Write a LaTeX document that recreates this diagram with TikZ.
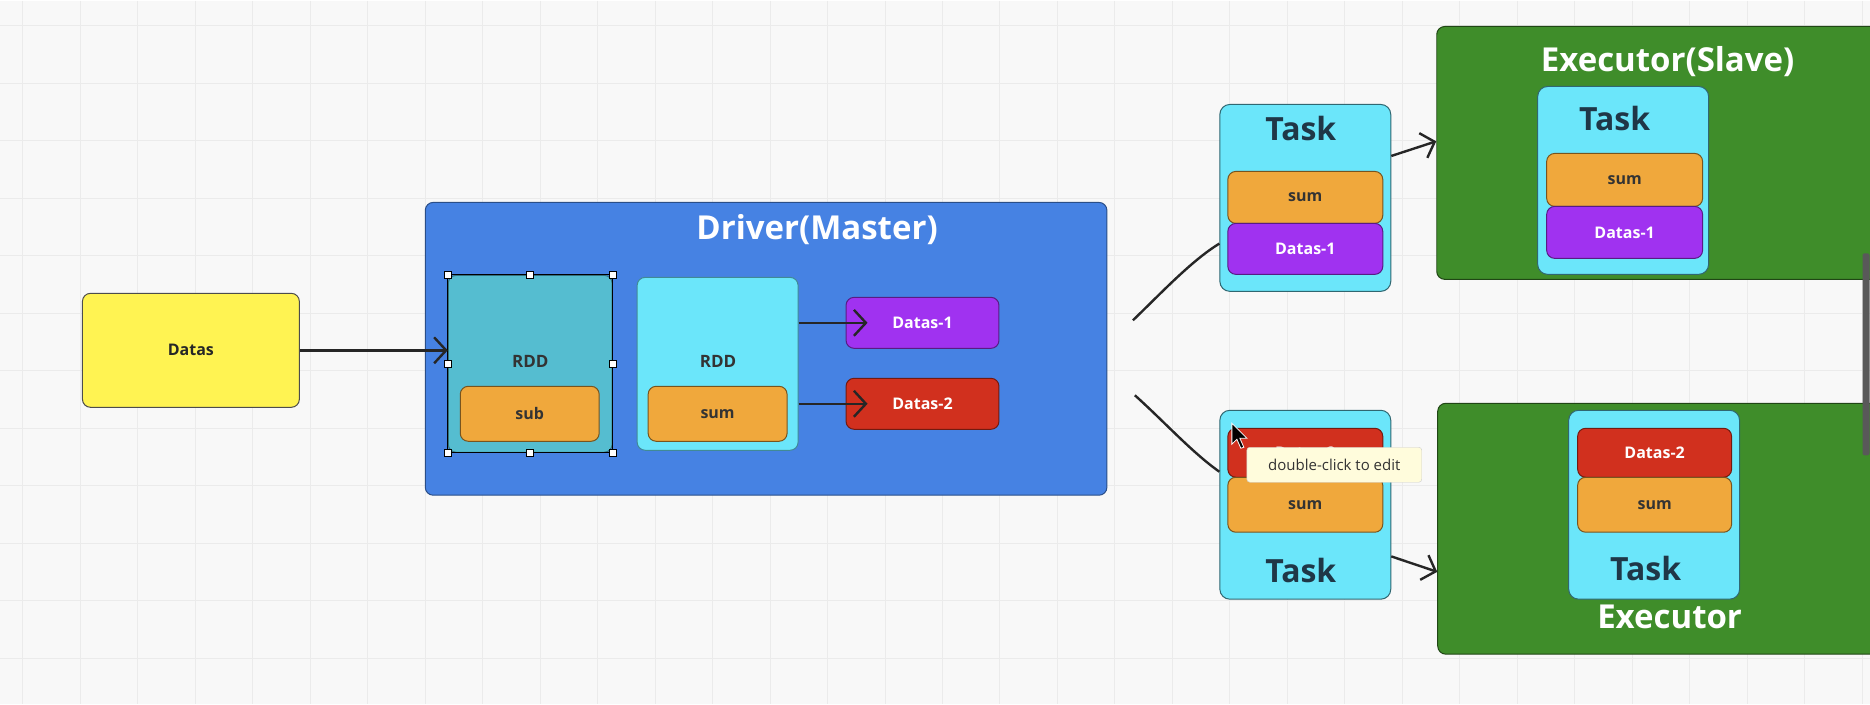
\documentclass[tikz,border=0pt]{standalone}
\usepackage{fontspec}
\setmainfont{Open Sans}
\usetikzlibrary{arrows.meta}

\definecolor{canvas}{HTML}{F8F8F8}
\definecolor{gridline}{HTML}{EBEBEB}
\definecolor{datayellow}{HTML}{FFF352}
\definecolor{driverblue}{HTML}{4682E3}
\definecolor{rddteal}{HTML}{55BDD0}
\definecolor{taskcyan}{HTML}{6BE6FA}
\definecolor{sumorange}{HTML}{F0A83C}
\definecolor{datapurple}{HTML}{A032F0}
\definecolor{datared}{HTML}{D1301E}
\definecolor{execgreen}{HTML}{3F8D2A}
\definecolor{taskink}{HTML}{1F3747}
\definecolor{tipyellow}{HTML}{FFFCDC}

\begin{document}
\begin{tikzpicture}[
  x=1pt, y=-1pt,
  every node/.style = {align=center, inner sep=0pt},
  wh/.style 2 args = {minimum width=#1pt, minimum height=#2pt},
  box/.style = {shape=rectangle, rounded corners=8pt, draw=black!70, line width=1pt},
  small/.style = {font=\fontsize{16}{19}\selectfont\bfseries},
  datasbox/.style = {box, fill=datayellow, small, text=black!85},
  driverbox/.style = {box, fill=driverblue, draw=driverblue!60!black},
  rddbox/.style = {box, fill=#1, draw=#1!60!black},
  sumbox/.style = {box, fill=sumorange, small, text=black!80, draw=sumorange!50!black},
  databox/.style = {box, fill=#1, small, text=white, draw=#1!55!black},
  taskbox/.style = {box, rounded corners=10pt, fill=taskcyan, draw=taskcyan!45!black},
  execbox/.style = {box, fill=execgreen, draw=execgreen!50!black},
  title/.style = {font=\fontsize{33}{38}\selectfont\bfseries, text=white},
  tasktext/.style = {font=\fontsize{32}{36}\selectfont\bfseries, text=taskink},
  rddtext/.style = {font=\fontsize{17}{20}\selectfont\bfseries, text=black!80},
  flow/.style = {draw=black!85, line width=2.4pt, -{Straight Barb[length=12pt,width=26pt]}},
  link/.style = {draw=black!85, line width=2.4pt},
  handle/.style = {shape=rectangle, draw=black, fill=white, line width=0.8pt, minimum size=7pt},
  tip/.style = {shape=rectangle, rounded corners=3pt, fill=tipyellow, draw=black!20,
                font=\fontsize{15}{18}\selectfont, text=black!80}
]

% canvas and grid
\fill[canvas] (0,0) rectangle (1870,704);
\foreach \gx in {0,...,32}
  \draw[gridline, line width=1pt] ({22.5+57.5*\gx},0) -- ++(0,704);
\foreach \gy in {0,...,11}
  \draw[gridline, line width=1pt] (0,{25.5+57.5*\gy}) -- ++(1870,0);
\useasboundingbox (0,0) rectangle (1870,704);

% input
\node[datasbox, wh={217}{114}] (datas) at (190.5,350) {Datas};

% driver
\node[driverbox, wh={682}{293}] (driver) at (766,348.5) {};
\node[title] (drvtitle) at (817,229) {Driver(Master)};

\node[rddbox=rddteal, wh={164}{177}] (rdd1) at (530,363.5) {};
\node[rddtext] (rdd1t) at (530,361) {RDD};
\node[sumbox, wh={139}{55}] (sub) at (529.5,413.5) {sub};

\node[rddbox=taskcyan, wh={161}{173}] (rdd2) at (717.5,363.5) {};
\node[rddtext] (rdd2t) at (718,361) {RDD};
\node[sumbox, wh={139}{55}] (sum) at (717.5,413.5) {sum};

\node[databox=datapurple, wh={153}{51}] (dataone) at (922.5,322.5) {Datas-1};
\node[databox=datared, wh={153}{51}] (datatwo) at (922.5,403.5) {Datas-2};

% selection frame
\draw[black, line width=1pt] (rdd1.north west) rectangle (rdd1.south east);
\foreach \a [count=\i] in {north west,north,north east,east,south east,south,south west,west}
  \node[handle] (h\i) at (rdd1.\a) {};

\draw[flow] (datas.east) -- (datas.east -| rdd1.west);
\draw[flow, shorten >=-22pt] (rdd2.east |- dataone) -- (dataone.west);
\draw[flow, shorten >=-22pt] (rdd2.east |- datatwo) -- (datatwo.west);

% tasks
\node[taskbox, wh={171}{187}] (task1) at (1305.5,197.5) {};
\node[tasktext] (task1t) at (1301,128) {Task};
\node[sumbox, wh={155}{52}] (task1sum) at (1305.5,197) {sum};
\node[databox=datapurple, wh={155}{51}] (task1data) at (1305.5,248.5) {Datas-1};

\node[taskbox, wh={171}{189}] (task2) at (1305.5,504.5) {};
\node[databox=datared, wh={155}{49}] (task2data) at (1305.5,452.5) {Datas-2};
\node[sumbox, wh={155}{55}] (task2sum) at (1305.5,504.5) {sum};
\node[tasktext] (task2t) at (1301,570) {Task};

\coordinate (split1) at (1133,320);
\coordinate (split2) at (1135,395);
\draw[link] (split1) .. controls (1162,292) and (1192,260) .. (task1.208);
\draw[link] (split2) .. controls (1165,422) and (1192,452) .. (task2.159);

% executors
\node[execbox, wh={443}{253}] (exec1) at (1658.5,152.5) {};
\node[title] (exec1t) at (1668,61) {Executor(Slave)};
\node[taskbox, wh={171}{188}] (etask1) at (1623.5,180) {};
\node[tasktext] (etask1t) at (1615,118) {Task};
\node[sumbox, wh={156}{53}] (etask1sum) at (1625,179.5) {sum};
\node[databox=datapurple, wh={156}{52}] (etask1data) at (1625,232) {Datas-1};

\node[execbox, wh={443}{251}] (exec2) at (1659.5,528.5) {};
\node[taskbox, wh={171}{189}] (etask2) at (1654.5,504.5) {};
\node[databox=datared, wh={154}{49}] (etask2data) at (1655,452.5) {Datas-2};
\node[sumbox, wh={154}{55}] (etask2sum) at (1655,504.5) {sum};
\node[tasktext] (etask2t) at (1646,568) {Task};
\node[title] (exec2t) at (1670,617) {Executor};

\draw[flow] (task1.26) -- (exec1.177);
\draw[flow] (task2.329) -- (exec2.191);

% editor overlay
\node[tip, wh={175}{35}] (tooltip) at (1334.5,464.5) {double-click to edit};
\fill[black, draw=white, line width=0.8pt] (1232,423) -- (1232,444) -- (1237,439)
  -- (1241,448) -- (1244,447) -- (1240,438) -- (1247,438) -- cycle;
\fill[black!65, rounded corners=2pt] (1863,253) rectangle (1870,455);

\end{tikzpicture}
\end{document}
